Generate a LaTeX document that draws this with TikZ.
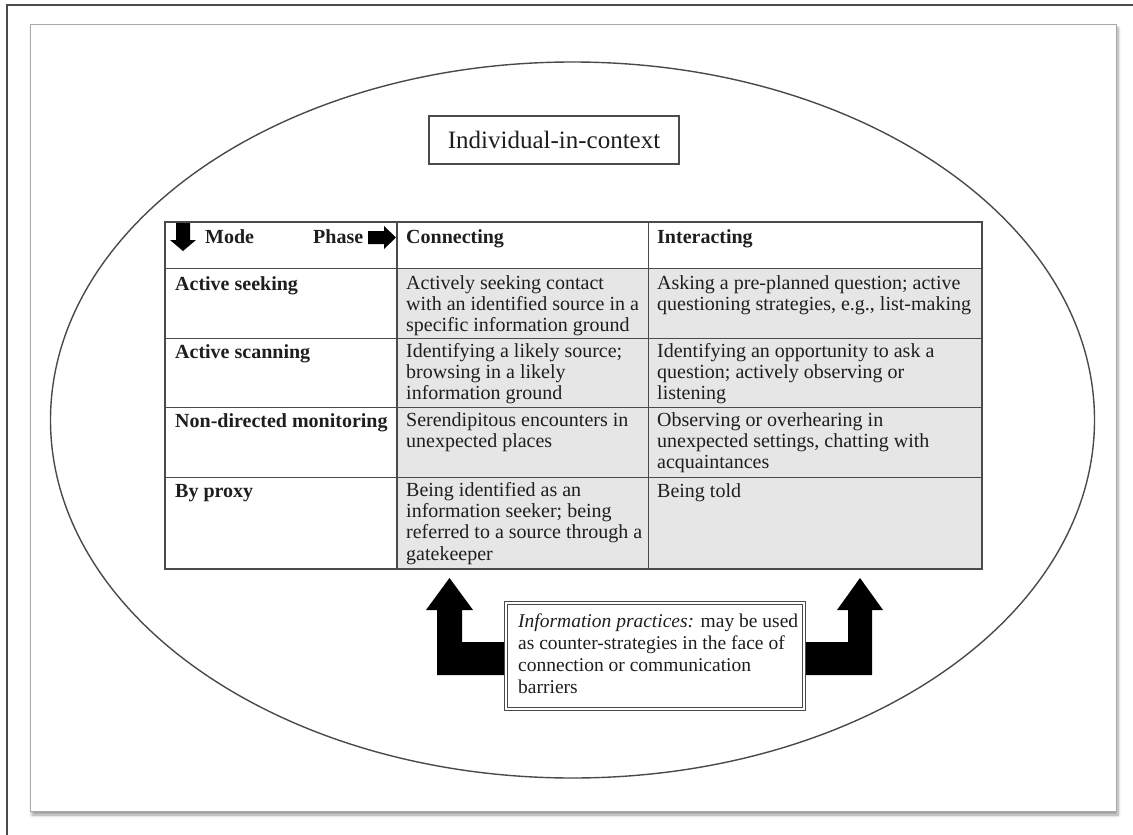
\documentclass[tikz,border=0pt]{standalone}
\usepackage{fontspec}
\setmainfont{Liberation Serif}
\usetikzlibrary{shadows.blur}
\definecolor{ink}{HTML}{1E1E1E}
\definecolor{cellgray}{HTML}{E6E6E6}
\definecolor{rule}{HTML}{4A4A4A}
\definecolor{cardline}{HTML}{A8A8A8}

\begin{document}
\begin{tikzpicture}[x=1pt,y=-1pt,
  % cell text: placed at the baseline of its first line
  txt/.style={anchor=north west, align=left, inner sep=0pt, text=ink, yshift=14.9pt,
              font=\fontsize{20}{21.3}\selectfont, execute at begin node=\strut},
  headtxt/.style={txt, font=\fontsize{20}{21.3}\selectfont\bfseries},
  gridline/.style={draw=rule, line width=1pt},
  tableborder/.style={draw=rule, line width=2pt},
  blockarrow/.style={fill=black, draw=none},
]
\useasboundingbox (0,0) rectangle (1133,835);

% page edge
\draw[rule, line width=1.5pt] (7,835) -- (7,5) -- (1133,5);

% card with drop shadow
\fill[white, blur shadow={shadow xshift=2pt, shadow yshift=-4pt,
      shadow blur steps=6, shadow blur radius=3pt}] (30,24) rectangle (1116,811);
\draw[cardline, line width=1pt] (30,24) rectangle (1116,811);

% context ellipse
\draw[rule, line width=1.4pt] (572.5,420) ellipse [x radius=522, y radius=358];

% title
\node[draw=rule, line width=1.3pt, fill=white, minimum width=250pt, minimum height=48pt,
      text=ink, font=\fontsize{25}{28}\selectfont] (title) at (554,140) {Individual-in-context};

% table body
\fill[cellgray] (397,268) rectangle (982,569);
\fill[white] (165,222) rectangle (982,268);
\fill[white] (165,268) rectangle (397,569);
\draw[gridline] (165,268) -- (982,268);
\draw[gridline] (165,338) -- (982,338);
\draw[gridline] (165,407) -- (982,407);
\draw[gridline] (165,477) -- (982,477);
\draw[tableborder] (397,222) -- (397,569);
\draw[gridline] (648,222) -- (648,569);
\draw[tableborder] (165,222) rectangle (982,569);

% header
\fill[black] (176,223) -- (190,223) -- (190,240) -- (196,240) -- (183,251)
             -- (170,240) -- (176,240) -- cycle;
\node[headtxt] (hmode) at (205,243) {Mode};
\node[headtxt] (hphase) at (313,243) {Phase};
\fill[black] (368,231) -- (384,231) -- (384,226) -- (396,237.5) -- (384,249)
             -- (384,244) -- (368,244) -- cycle;
\node[headtxt] (hconn) at (406,243) {Connecting};
\node[headtxt] (hinter) at (657,243) {Interacting};

% rows
\node[headtxt] (m1) at (175,290) {Active seeking};
\node[txt] (c1) at (406,290) {Actively seeking contact\\with an identified source in a\\specific information ground};
\node[txt] (i1) at (657,290) {Asking a pre-planned question; active\\questioning strategies, e.g., list-making};

\node[headtxt] (m2) at (175,358) {Active scanning};
\node[txt] (c2) at (406,358) {Identifying a likely source;\\browsing in a likely\\information ground};
\node[txt] (i2) at (657,358) {Identifying an opportunity to ask a\\question; actively observing or\\listening};

\node[headtxt] (m3) at (175,427) {Non-directed monitoring};
\node[txt] (c3) at (406,427) {Serendipitous encounters in\\unexpected places};
\node[txt] (i3) at (657,427) {Observing or overhearing in\\unexpected settings, chatting with\\acquaintances};

\node[headtxt] (m4) at (175,497) {By proxy};
\node[txt] (c4) at (406,497) {Being identified as an\\information seeker; being\\referred to a source through a\\gatekeeper};
\node[txt] (i4) at (657,497) {Being told};

% block arrows from the note up to the two phases
\fill[blockarrow] (449.5,578) -- (473,610) -- (462,610) -- (462,642) -- (520,642)
                  -- (520,675) -- (437,675) -- (437,610) -- (426,610) -- cycle;
\fill[blockarrow] (860,578) -- (883,610) -- (872,610) -- (872,675) -- (790,675)
                  -- (790,642) -- (848,642) -- (848,610) -- (837,610) -- cycle;

% note
\node[draw=rule, line width=1pt, double=white, double distance=2.2pt, fill=white,
      minimum width=298pt, minimum height=106pt] (note) at (655,656) {};
\node[txt, font=\fontsize{19.5}{22.3}\selectfont] (notetext) at (518,628)
  {\textit{Information practices:} may be used\\as counter-strategies in the face of\\connection or communication\\barriers};
\end{tikzpicture}
\end{document}
